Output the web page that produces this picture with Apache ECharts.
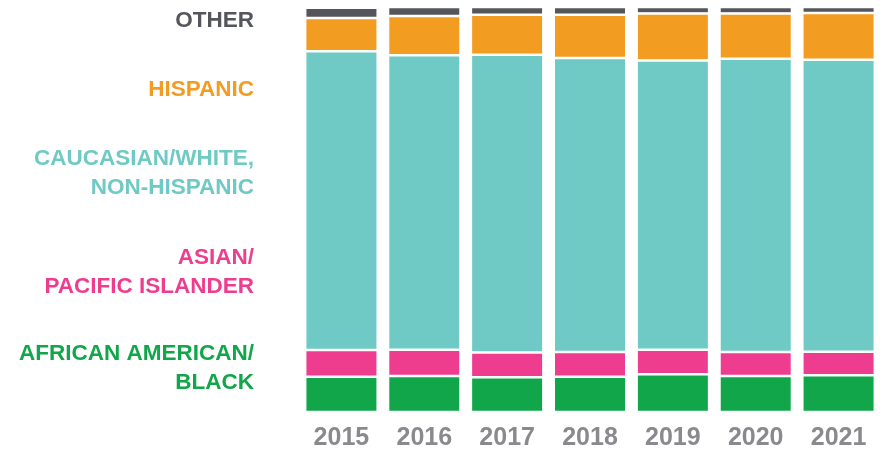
<!DOCTYPE html>
<html>
<head>
<meta charset="utf-8">
<title>Enrollment by race/ethnicity, 2015–2021</title>
<script src="https://cdn.jsdelivr.net/npm/echarts@6/dist/echarts.min.js"></script>
<style>
  html, body { margin: 0; padding: 0; background: #ffffff; }
  #chart { width: 880px; height: 451px; }
</style>
</head>
<body>
<div id="chart"></div>
<script>
// Share of total (%) per year, stacked bottom to top
const years = ['2015', '2016', '2017', '2018', '2019', '2020', '2021'];
const africanAmerican = [8.7, 8.9, 8.6, 8.7, 9.3, 8.9, 9.1];
const asianPacific    = [6.6, 6.5, 6.1, 6.1, 6.1, 5.9, 5.8];
const caucasian       = [73.8, 72.7, 73.5, 72.6, 71.4, 72.4, 72.1];
const hispanic        = [8.2, 9.7, 9.9, 10.7, 11.6, 11.2, 11.5];
const other           = [2.5, 2.2, 1.9, 1.9, 1.6, 1.6, 1.5];

const COLORS = {
  black: '#12a64a',
  asian: '#ee3d8f',
  white: '#6fc9c4',
  hispanic: '#f39c22',
  other: '#55565b'
};

const FONT = '"Liberation Sans", Arial, Helvetica, sans-serif';

// The white border sits inside each segment, leaving a thin gap between stacked pieces
function stackSeries(name, data, color) {
  return {
    name: name,
    type: 'bar',
    stack: 'total',
    data: data,
    barWidth: 72.5,
    clip: false,
    itemStyle: { color: color, borderColor: '#ffffff', borderWidth: 1.25 },
    emphasis: { disabled: true }
  };
}

// Legend-style category labels on the left (one entry per text line)
const sideLabels = [
  { text: 'OTHER', color: COLORS.other, y: 21 },
  { text: 'HISPANIC', color: COLORS.hispanic, y: 90 },
  { text: 'CAUCASIAN/WHITE,', color: COLORS.white, y: 159 },
  { text: 'NON-HISPANIC', color: COLORS.white, y: 188 },
  { text: 'ASIAN/', color: COLORS.asian, y: 258 },
  { text: 'PACIFIC ISLANDER', color: COLORS.asian, y: 287 },
  { text: 'AFRICAN AMERICAN/', color: COLORS.black, y: 354 },
  { text: 'BLACK', color: COLORS.black, y: 382.5 }
];

const chart = echarts.init(document.getElementById('chart'), null, { renderer: 'canvas' });

chart.setOption({
  animation: false,
  backgroundColor: '#ffffff',
  grid: { left: 300, right: 0, top: 7, bottom: 38, containLabel: false },
  xAxis: {
    type: 'category',
    data: years,
    axisLine: { show: false },
    axisTick: { show: false },
    axisLabel: {
      color: '#8a8a8e',
      fontFamily: FONT,
      fontWeight: 'bold',
      fontSize: 25,
      margin: 14
    }
  },
  yAxis: {
    type: 'value',
    min: 0,
    max: 100,
    show: false,
    splitLine: { show: false }
  },
  graphic: sideLabels.map(function (l) {
    return {
      type: 'text',
      x: 254,
      y: l.y,
      style: {
        text: l.text,
        fill: l.color,
        font: 'bold 22.5px ' + FONT,
        align: 'right',
        verticalAlign: 'middle'
      }
    };
  }),
  series: [
    stackSeries('African American/Black', africanAmerican, COLORS.black),
    stackSeries('Asian/Pacific Islander', asianPacific, COLORS.asian),
    stackSeries('Caucasian/White, Non-Hispanic', caucasian, COLORS.white),
    stackSeries('Hispanic', hispanic, COLORS.hispanic),
    stackSeries('Other', other, COLORS.other)
  ]
});
</script>
</body>
</html>
